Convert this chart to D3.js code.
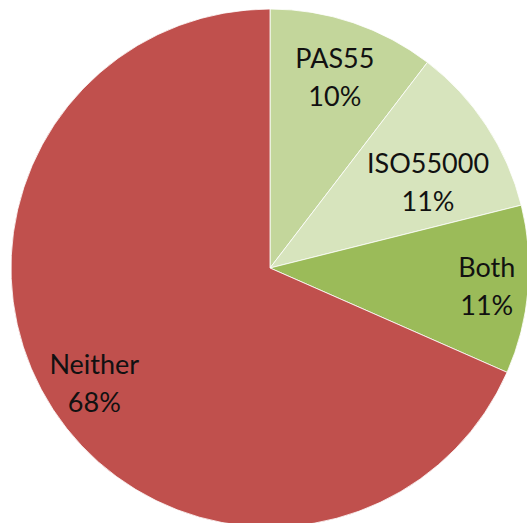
<!DOCTYPE html>
<html>
<head>
<meta charset="utf-8">
<script src="https://cdn.jsdelivr.net/npm/d3@7"></script>
<style>
  html, body { margin: 0; padding: 0; background: #fff; }
  text { font-family: Lato, "Open Sans", sans-serif; }
</style>
</head>
<body>
<div id="chart"></div>
<script>
// data
const categories = ["PAS55", "ISO55000", "Both", "Neither"];
const shares = [10.4, 10.7, 10.5, 68.4];
const sliceColors = ["#c3d69b", "#d7e4bd", "#9bbb59", "#c0504d"];

const width = 527;
const height = 523;
const cx = 270;
const cy = 268;
const radius = 259;

// excel "best fit" label placement: radius fraction + small angle nudge
const labelPlace = {
  "PAS55": { k: 0.78, da: 0 },
  "ISO55000": { k: 0.695, da: 0.082 },
  "Both": { k: 0.84, da: 0 },
  "Neither": { k: 0.81, da: 0 }
};

const data = categories.map((c, i) => ({ name: c, value: shares[i] }));

const color = d3.scaleOrdinal().domain(categories).range(sliceColors);

const pie = d3.pie().value(d => d.value).sort(null);
const arc = d3.arc().innerRadius(0).outerRadius(radius);

const svg = d3.select("#chart")
  .append("svg")
  .attr("width", width)
  .attr("height", height);

const g = svg.append("g")
  .attr("transform", "translate(" + cx + "," + cy + ")");

const arcs = g.selectAll(".slice")
  .data(pie(data))
  .enter()
  .append("g")
  .attr("class", "slice");

arcs.append("path")
  .attr("d", arc)
  .attr("fill", d => color(d.data.name))
  .attr("stroke", "#fff")
  .attr("stroke-width", 0.8);

const total = d3.sum(shares);

const label = arcs.append("text")
  .attr("transform", d => {
    const p = labelPlace[d.data.name];
    const a = (d.startAngle + d.endAngle) / 2 + p.da;
    const r = radius * p.k;
    return "translate(" + [r * Math.sin(a), -r * Math.cos(a)] + ")";
  })
  .attr("text-anchor", "middle")
  .attr("fill", "#111")
  .style("font-size", "27px");

label.append("tspan")
  .attr("x", 0)
  .attr("y", -9)
  .text(d => d.data.name);

label.append("tspan")
  .attr("x", 0)
  .attr("y", 29)
  .text(d => Math.round(d.data.value / total * 100) + "%");
</script>
</body>
</html>
